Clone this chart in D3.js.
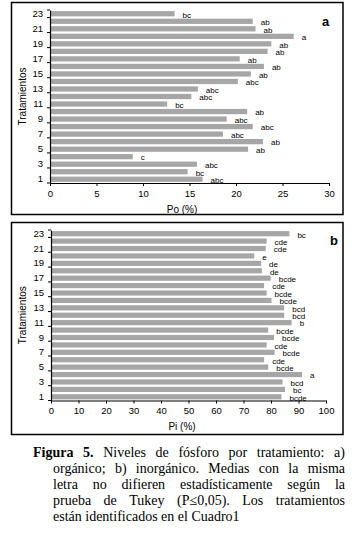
<!DOCTYPE html>
<html>
<head>
<meta charset="utf-8">
<script src="https://cdn.jsdelivr.net/npm/d3@7"></script>
<style>
body { margin: 0; background: #fff; }
svg text { fill: #000; }
.chart text { font-family: "Liberation Sans", Arial, sans-serif; }
.caption text { font-family: "Liberation Serif", "Times New Roman", serif; font-size: 14px; }
</style>
</head>
<body>
<svg id="fig" width="354" height="536"></svg>
<script>
// data (treatment 1 .. 23)
var tratamientos = d3.range(1, 24);
var po = [16.4, 14.8, 15.8, 8.9, 21.3, 22.9, 18.6, 21.8, 19.0, 21.2, 12.6, 15.2,
          15.9, 20.2, 21.6, 23.0, 20.4, 23.4, 23.8, 26.2, 22.1, 21.8, 13.4];
var poLetras = ["abc", "bc", "abc", "c", "ab", "ab", "abc", "abc", "abc", "ab", "bc", "abc",
                "abc", "abc", "ab", "ab", "ab", "ab", "ab", "a", "ab", "ab", "bc"];
var pi = [83.8, 85.1, 84.2, 91.3, 79.0, 77.5, 81.3, 78.4, 81.1, 79.0, 87.5, 84.8,
          84.8, 80.2, 78.4, 77.5, 79.9, 76.7, 76.4, 73.9, 78.1, 78.4, 86.7];
var piLetras = ["bcde", "bc", "bcd", "a", "bcde", "cde", "bcde", "cde", "bcde", "bcde", "b", "bcd",
                "bcd", "bcde", "bcde", "cde", "bcde", "de", "de", "e", "cde", "cde", "bc"];
var poTicks = [0, 5, 10, 15, 20, 25, 30];
var piTicks = [0, 10, 20, 30, 40, 50, 60, 70, 80, 90, 100];
var yLabels = [1, 3, 5, 7, 9, 11, 13, 15, 17, 19, 21, 23];

var caption = [
    "Figura 5. Niveles de fósforo por tratamiento: a)",
    "orgánico; b) inorgánico. Medias con la misma",
    "letra no difieren estadísticamente según la",
    "prueba de Tukey (P≤0,05). Los tratamientos",
    "están identificados en el Cuadro1"
];

var svg = d3.select("#fig");

function drawPanel(opt) {
    var g = svg.append("g").attr("class", "chart");

    g.append("rect")
        .attr("x", opt.box[0]).attr("y", opt.box[1])
        .attr("width", opt.box[2]).attr("height", opt.box[3])
        .attr("fill", "none").attr("stroke", "#000").attr("stroke-width", 1.5);

    var x = d3.scaleLinear().domain([0, opt.max]).range(opt.xr);
    var y = d3.scaleBand().domain(tratamientos).range(opt.yr).paddingInner(0.3).paddingOuter(0.15);

    // bars
    g.selectAll("rect.bar").data(tratamientos).enter()
        .append("rect").attr("class", "bar")
        .attr("x", x(0) + 1)
        .attr("y", function (d) { return y(d); })
        .attr("width", function (d) { return x(opt.values[d - 1]) - x(0) - 1; })
        .attr("height", y.bandwidth())
        .attr("fill", "#a6a6a6");

    // significance letters
    g.selectAll("text.let").data(tratamientos).enter()
        .append("text").attr("class", "let")
        .attr("x", function (d) { return x(opt.values[d - 1]) + 8; })
        .attr("y", function (d) { return y(d) + y.bandwidth() / 2 + 1; })
        .attr("dy", "0.35em")
        .style("font-size", "8px")
        .text(function (d) { return opt.letters[d - 1]; });

    // x axis
    var xAxis = g.append("g")
        .attr("transform", "translate(0," + opt.yr[0] + ")")
        .call(d3.axisBottom(x).tickValues(opt.ticks).tickSizeInner(3).tickSizeOuter(0).tickPadding(4));
    xAxis.selectAll("text").style("font-size", "9.5px").attr("font-family", null);
    xAxis.select(".domain").attr("stroke-width", 1.2);

    // y axis
    var yAxis = g.append("g")
        .attr("transform", "translate(" + opt.xr[0] + ",0)")
        .call(d3.axisLeft(y).tickValues(yLabels).tickSize(0).tickPadding(7));
    yAxis.selectAll("text").style("font-size", "9.5px");
    yAxis.select(".domain").attr("stroke-width", 1.2);

    // category tick marks every two treatments
    var step = y.step();
    g.selectAll("line.ytick").data(yLabels).enter()
        .append("line").attr("class", "ytick")
        .attr("x1", opt.xr[0] - 3).attr("x2", opt.xr[0])
        .attr("y1", function (d) { return y(d) + y.bandwidth() / 2 + step / 2; })
        .attr("y2", function (d) { return y(d) + y.bandwidth() / 2 + step / 2; })
        .attr("stroke", "#000");
    g.append("line")
        .attr("x1", opt.xr[0] - 3).attr("x2", opt.xr[0])
        .attr("y1", opt.yr[1]).attr("y2", opt.yr[1])
        .attr("stroke", "#000");

    g.append("text")
        .attr("x", 182).attr("y", opt.yr[0] + 26)
        .attr("dy", "0.35em")
        .attr("text-anchor", "middle")
        .style("font-size", "10px")
        .text(opt.xlabel);

    g.append("text")
        .attr("transform", "translate(22," + (opt.yr[0] + opt.yr[1]) / 2 + ") rotate(-90)")
        .attr("text-anchor", "middle")
        .attr("dy", "0.35em")
        .style("font-size", "10px")
        .text("Tratamientos");

    g.append("text")
        .attr("x", opt.tag[0]).attr("y", opt.tag[1])
        .attr("dy", "0.35em")
        .style("font-size", "13px").style("font-weight", "bold")
        .text(opt.tagText);
}

drawPanel({
    box: [11.5, 2.5, 331.5, 212], xr: [50, 329], yr: [183, 10], max: 30,
    values: po, letters: poLetras, ticks: poTicks, xlabel: "Po (%)",
    tag: [322, 21], tagText: "a"
});

drawPanel({
    box: [11.5, 222.5, 331.5, 212], xr: [51, 326], yr: [400.5, 230], max: 100,
    values: pi, letters: piLetras, ticks: piTicks, xlabel: "Pi (%)",
    tag: [330, 240], tagText: "b"
});

// caption, justified line by line
var cap = svg.append("g").attr("class", "caption");
caption.forEach(function (line, i) {
    var left = i === 0 ? 33 : 53, right = 345, base = 457 + i * 16;
    var words = line.split(" ");
    var nodes = words.map(function (w, j) {
        var t = cap.append("text").attr("y", base);
        if (i === 0 && j < 2) t.style("font-weight", "bold");
        t.text(w);
        return t;
    });
    var widths = nodes.map(function (t) { return t.node().getComputedTextLength(); });
    var gap = 3.5;
    if (i < caption.length - 1) gap = (right - left - d3.sum(widths)) / (words.length - 1);
    var cx = left;
    nodes.forEach(function (t, j) {
        t.attr("x", cx);
        cx += widths[j] + gap;
    });
});
</script>
</body>
</html>
